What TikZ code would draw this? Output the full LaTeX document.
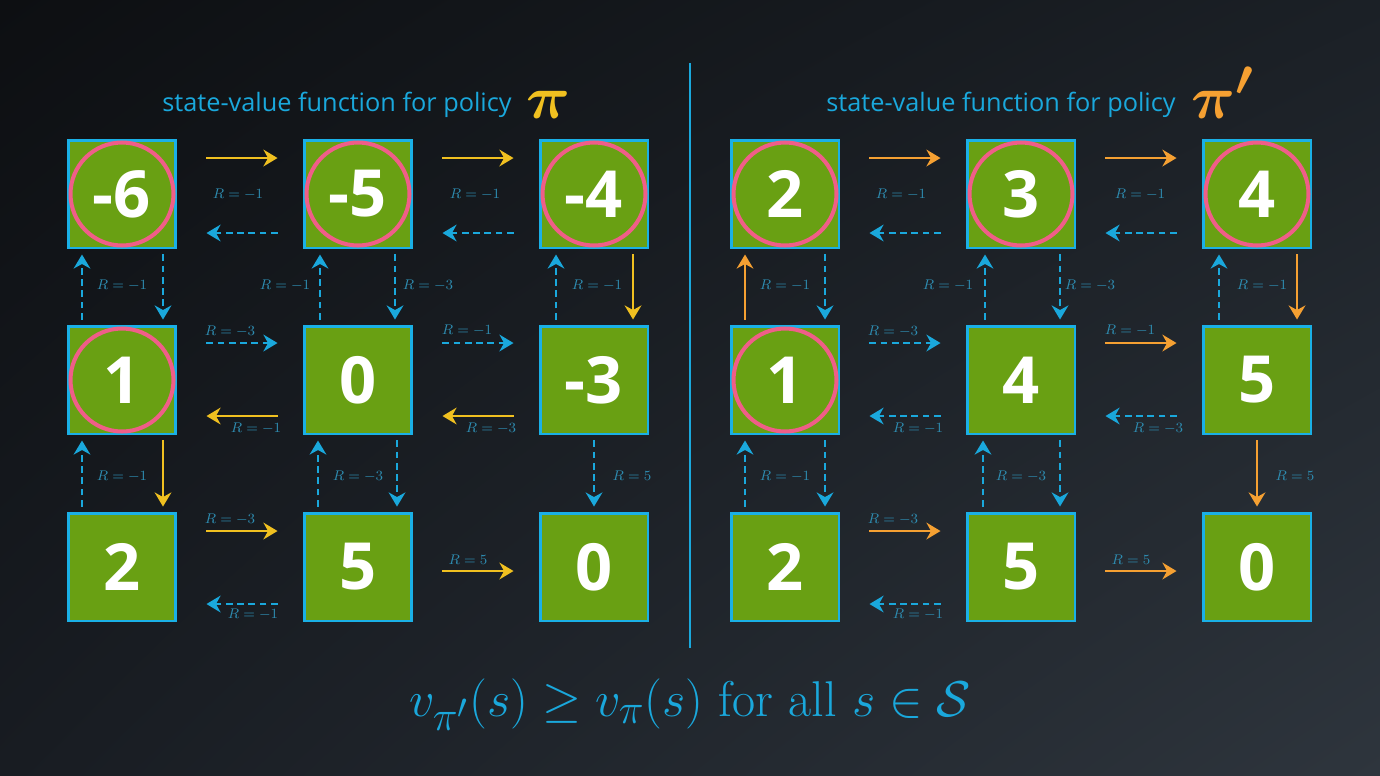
\documentclass[tikz,border=0pt]{standalone}
\usepackage{bm}
\usepackage{fontspec}
\newfontfamily\osans{Open Sans}
\usetikzlibrary{arrows.meta,calc,shadings}
\definecolor{bgA}{HTML}{0D0F12}
\definecolor{bgB}{HTML}{1B2026}
\definecolor{bgC}{HTML}{181C22}
\definecolor{bgD}{HTML}{2E353D}
\definecolor{sqgreen}{HTML}{69A013}
\definecolor{sqcyan}{HTML}{1AB0E6}
\definecolor{ringpink}{HTML}{F05E88}
\definecolor{yel}{HTML}{F0C020}
\definecolor{ora}{HTML}{F5A032}
\definecolor{cya}{HTML}{1AA8DC}
\definecolor{labc}{HTML}{2E8DB2}
\tikzset{
  sq/.style={draw=sqcyan, fill=sqgreen, line width=1.7pt, minimum size=2.16cm, inner sep=0pt,
    text=white, font=\osans\bfseries\fontsize{37}{40}\selectfont},
  ring/.style={circle, draw=ringpink, line width=2.3pt, minimum size=2.06cm, inner sep=0pt},
  tip/.style={-{Stealth[length=8pt,width=9.5pt,inset=2.6pt]}},
  yarr/.style={draw=yel, line width=1.6pt, tip},
  oarr/.style={draw=ora, line width=1.6pt, tip},
  carr/.style={draw=cya, line width=1.6pt, dash pattern=on 3.8pt off 2.6pt, tip},
  lbl/.style={text=labc, inner sep=0pt, font=\fontsize{8}{9}\selectfont},
  ttl/.style={text=cya, inner sep=0pt, anchor=base, font=\osans\fontsize{14.4}{16}\selectfont},
  pisym/.style={anchor=base west, inner sep=0pt, font=\fontsize{24.88}{26}\selectfont},
}
\begin{document}
\begin{tikzpicture}[x=0.02cm, y=-0.02cm]
\useasboundingbox (0,0) rectangle (1380,775);
\shade[upper left=bgA, upper right=bgB, lower left=bgC, lower right=bgD] (0,0) rectangle (1380,775);

% titles
\node[ttl] (t1) at (337,111) {state-value function for policy};
\node[pisym, text=yel] (p1) at (526,118) {\scalebox{1.4}{$\bm{\pi}$}};
\node[ttl] (t2) at (1001,111) {state-value function for policy};
\node[pisym, text=ora] (p2) at (1191,118) {\scalebox{1.4}{$\bm{\pi'}$}};

% separator
\coordinate (s1) at (690,63);
\coordinate (s2) at (690,648);
\draw[cya, line width=1.2pt] (s1) -- (s2);

% left grid
\node[sq] (L00) at (122,194) {-6};
\node[sq] (L01) at (358,194) {-5};
\node[sq] (L02) at (594,194) {-4};
\node[sq] (L10) at (122,380) {1};
\node[sq] (L11) at (358,380) {0};
\node[sq] (L12) at (594,380) {-3};
\node[sq] (L20) at (122,567) {2};
\node[sq] (L21) at (358,567) {5};
\node[sq] (L22) at (594,567) {0};
\node[ring] (cL00) at (L00) {};
\node[ring] (cL01) at (L01) {};
\node[ring] (cL02) at (L02) {};
\node[ring] (cL10) at (L10) {};

% right grid
\node[sq] (R00) at (785,194) {2};
\node[sq] (R01) at (1021,194) {3};
\node[sq] (R02) at (1257,194) {4};
\node[sq] (R10) at (785,380) {1};
\node[sq] (R11) at (1021,380) {4};
\node[sq] (R12) at (1257,380) {5};
\node[sq] (R20) at (785,567) {2};
\node[sq] (R21) at (1021,567) {5};
\node[sq] (R22) at (1257,567) {0};
\node[ring] (cR00) at (R00) {};
\node[ring] (cR01) at (R01) {};
\node[ring] (cR02) at (R02) {};
\node[ring] (cR10) at (R10) {};

% ---------- left grid arrows ----------
% row 0
\draw[yarr] ($(L00.east)+(29,-36)$) -- ($(L01.west)+(-25,-36)$);
\draw[carr] ($(L01.west)+(-25,39)$) -- ($(L00.east)+(29,39)$);
\draw[yarr] ($(L01.east)+(29,-36)$) -- ($(L02.west)+(-25,-36)$);
\draw[carr] ($(L02.west)+(-25,39)$) -- ($(L01.east)+(29,39)$);
\node[lbl] (a1) at (238,194) {$R=-1$};
\node[lbl] (a2) at (475,194) {$R=-1$};
% row 1
\draw[carr] ($(L10.east)+(29,-37)$) -- ($(L11.west)+(-25,-37)$);
\draw[yarr] ($(L11.west)+(-25,36)$) -- ($(L10.east)+(29,36)$);
\draw[carr] ($(L11.east)+(29,-37)$) -- ($(L12.west)+(-25,-37)$);
\draw[yarr] ($(L12.west)+(-25,36)$) -- ($(L11.east)+(29,36)$);
\node[lbl] (a3) at (230,331) {$R=-3$};
\node[lbl] (a4) at (256,428) {$R=-1$};
\node[lbl] (a5) at (467,330) {$R=-1$};
\node[lbl] (a6) at (491,428) {$R=-3$};
% row 2
\draw[yarr] ($(L20.east)+(29,-36)$) -- ($(L21.west)+(-25,-36)$);
\draw[carr] ($(L21.west)+(-25,37)$) -- ($(L20.east)+(29,37)$);
\draw[yarr] ($(L21.east)+(29,4)$) -- ($(L22.west)+(-25,4)$);
\node[lbl] (a7) at (230,519) {$R=-3$};
\node[lbl] (a8) at (253,614) {$R=-1$};
\node[lbl] (a9) at (468,560) {$R=5$};
% verticals, upper gap
\draw[carr] ($(L10.north)+(-40,-5)$) -- ($(L00.south)+(-40,5)$);
\draw[carr] ($(L00.south)+(41,5)$) -- ($(L10.north)+(41,-5)$);
\draw[carr] ($(L11.north)+(-38,-5)$) -- ($(L01.south)+(-38,5)$);
\draw[carr] ($(L01.south)+(37,5)$) -- ($(L11.north)+(37,-5)$);
\draw[carr] ($(L12.north)+(-38,-5)$) -- ($(L02.south)+(-38,5)$);
\draw[yarr] ($(L02.south)+(39,5)$) -- ($(L12.north)+(39,-5)$);
\node[lbl] (b1) at (122,285) {$R=-1$};
\node[lbl] (b2) at (285,285) {$R=-1$};
\node[lbl] (b3) at (428,285) {$R=-3$};
\node[lbl] (b4) at (597,285) {$R=-1$};
% verticals, lower gap
\draw[carr] ($(L20.north)+(-40,-5)$) -- ($(L10.south)+(-40,5)$);
\draw[yarr] ($(L10.south)+(41,5)$) -- ($(L20.north)+(41,-5)$);
\draw[carr] ($(L21.north)+(-40,-5)$) -- ($(L11.south)+(-40,5)$);
\draw[carr] ($(L11.south)+(39,5)$) -- ($(L21.north)+(39,-5)$);
\draw[carr] ($(L12.south)+(0,5)$) -- ($(L22.north)+(0,-5)$);
\node[lbl] (b5) at (122,476) {$R=-1$};
\node[lbl] (b6) at (358,476) {$R=-3$};
\node[lbl] (b7) at (632,476) {$R=5$};

% ---------- right grid arrows ----------
% row 0
\draw[oarr] ($(R00.east)+(29,-36)$) -- ($(R01.west)+(-25,-36)$);
\draw[carr] ($(R01.west)+(-25,39)$) -- ($(R00.east)+(29,39)$);
\draw[oarr] ($(R01.east)+(29,-36)$) -- ($(R02.west)+(-25,-36)$);
\draw[carr] ($(R02.west)+(-25,39)$) -- ($(R01.east)+(29,39)$);
\node[lbl] (c1) at (901,194) {$R=-1$};
\node[lbl] (c2) at (1140,194) {$R=-1$};
% row 1
\draw[carr] ($(R10.east)+(29,-37)$) -- ($(R11.west)+(-25,-37)$);
\draw[carr] ($(R11.west)+(-25,36)$) -- ($(R10.east)+(29,36)$);
\draw[oarr] ($(R11.east)+(29,-37)$) -- ($(R12.west)+(-25,-37)$);
\draw[carr] ($(R12.west)+(-25,36)$) -- ($(R11.east)+(29,36)$);
\node[lbl] (c3) at (893,331) {$R=-3$};
\node[lbl] (c4) at (918,428) {$R=-1$};
\node[lbl] (c5) at (1130,330) {$R=-1$};
\node[lbl] (c6) at (1158,428) {$R=-3$};
% row 2
\draw[oarr] ($(R20.east)+(29,-36)$) -- ($(R21.west)+(-25,-36)$);
\draw[carr] ($(R21.west)+(-25,37)$) -- ($(R20.east)+(29,37)$);
\draw[oarr] ($(R21.east)+(29,4)$) -- ($(R22.west)+(-25,4)$);
\node[lbl] (c7) at (893,519) {$R=-3$};
\node[lbl] (c8) at (918,614) {$R=-1$};
\node[lbl] (c9) at (1131,560) {$R=5$};
% verticals, upper gap
\draw[oarr] ($(R10.north)+(-40,-5)$) -- ($(R00.south)+(-40,5)$);
\draw[carr] ($(R00.south)+(40,5)$) -- ($(R10.north)+(40,-5)$);
\draw[carr] ($(R11.north)+(-36,-5)$) -- ($(R01.south)+(-36,5)$);
\draw[carr] ($(R01.south)+(39,5)$) -- ($(R11.north)+(39,-5)$);
\draw[carr] ($(R12.north)+(-38,-5)$) -- ($(R02.south)+(-38,5)$);
\draw[oarr] ($(R02.south)+(40,5)$) -- ($(R12.north)+(40,-5)$);
\node[lbl] (d1) at (785,285) {$R=-1$};
\node[lbl] (d2) at (948,285) {$R=-1$};
\node[lbl] (d3) at (1090,285) {$R=-3$};
\node[lbl] (d4) at (1262,285) {$R=-1$};
% verticals, lower gap
\draw[carr] ($(R20.north)+(-40,-5)$) -- ($(R10.south)+(-40,5)$);
\draw[carr] ($(R10.south)+(40,5)$) -- ($(R20.north)+(40,-5)$);
\draw[carr] ($(R21.north)+(-38,-5)$) -- ($(R11.south)+(-38,5)$);
\draw[carr] ($(R11.south)+(39,5)$) -- ($(R21.north)+(39,-5)$);
\draw[oarr] ($(R12.south)+(0,5)$) -- ($(R22.north)+(0,-5)$);
\node[lbl] (d5) at (785,476) {$R=-1$};
\node[lbl] (d6) at (1021,476) {$R=-3$};
\node[lbl] (d7) at (1295,476) {$R=5$};

% formula
\node[anchor=base, inner sep=0pt, text=cya, font=\fontsize{24.88}{28}\selectfont] (f) at (690,716)
  {\scalebox{1.15}{$v_{\pi'}(s) \geq v_{\pi}(s)$ for all $s \in \mathcal{S}$}};
\end{tikzpicture}
\end{document}
